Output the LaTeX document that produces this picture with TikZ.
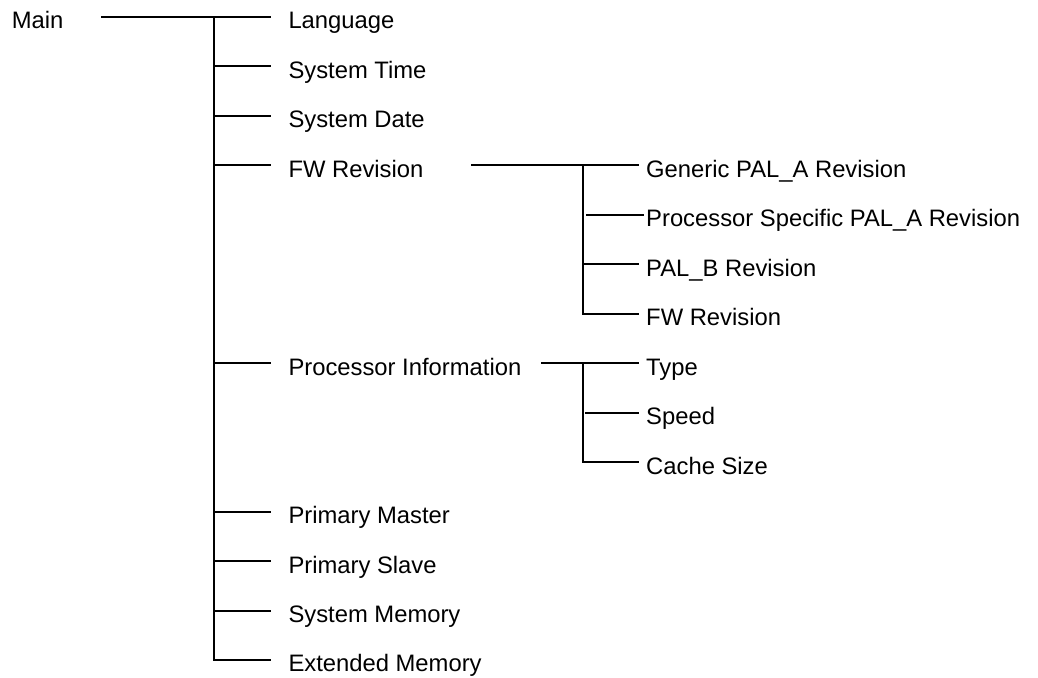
\documentclass[tikz,border=0pt]{standalone}
\usepackage{fontspec}
\setmainfont{Liberation Sans}
\begin{document}
\begin{tikzpicture}[x=1pt,y=-1pt,
  lbl/.style={anchor=base west, inner sep=0pt, font=\fontsize{23.8}{28}\selectfont},
  link/.style={draw=black, line width=1.6pt}]
\useasboundingbox (0,0) rectangle (1038,677);

% ---- text nodes
\node[lbl] (main)    at (11.7,28.5)  {Main};
\node[lbl] (lang)    at (288.3,28.5) {Language};
\node[lbl] (stime)   at (288.3,78)   {System Time};
\node[lbl] (sdate)   at (288.3,127.5){System Date};
\node[lbl] (fw)      at (288.3,177)  {FW Revision};
\node[lbl] (proc)    at (288.3,375)  {Processor Information};
\node[lbl] (pmaster) at (288.3,523.5){Primary Master};
\node[lbl] (pslave)  at (288.3,573)  {Primary Slave};
\node[lbl] (smem)    at (288.3,622.5){System Memory};
\node[lbl] (emem)    at (288.3,671.5){Extended Memory};

\node[lbl] (gen)     at (646,177)    {Generic PAL\_A Revision};
\node[lbl] (pspec)   at (646,226.5)  {Processor Specific PAL\_A Revision};
\node[lbl] (palb)    at (646,276)    {PAL\_B Revision};
\node[lbl] (fw2)     at (646,325.5)  {FW Revision};
\node[lbl] (type)    at (646,375)    {Type};
\node[lbl] (speed)   at (646,424.5)  {Speed};
\node[lbl] (cache)   at (646,474)    {Cache Size};

% ---- level 1 coordinates
\coordinate (mainS)  at (101,17);
\coordinate (j0)     at (214,17);
\coordinate (langE)  at (271,17);
\coordinate (stimeE) at (271,66);
\coordinate (sdateE) at (271,116);
\coordinate (fwE)    at (271,165);
\coordinate (procE)  at (271,363);
\coordinate (pmE)    at (271,512);
\coordinate (psE)    at (271,561);
\coordinate (smE)    at (271,611);
\coordinate (emE)    at (271,660);

% ---- level 2 coordinates (FW Revision)
\coordinate (fwS)    at (471,165);
\coordinate (j3)     at (583,165);
\coordinate (genE)   at (639,165);
\coordinate (pspecS) at (586,215);
\coordinate (pspecE) at (644,215);
\coordinate (palbE)  at (639,264);
\coordinate (fw2E)   at (639,314);

% ---- level 2 coordinates (Processor Information)
\coordinate (procS)  at (541,363);
\coordinate (j7)     at (583,363);
\coordinate (typeE)  at (639,363);
\coordinate (speedS) at (585,413);
\coordinate (speedE) at (639,413);
\coordinate (cacheE) at (639,462);

% ---- connectors level 1
\draw[link] (mainS) -- (langE);
\draw[link] (j0) |- (emE);
\draw[link] (j0 |- stimeE) -- (stimeE);
\draw[link] (j0 |- sdateE) -- (sdateE);
\draw[link] (j0 |- fwE) -- (fwE);
\draw[link] (j0 |- procE) -- (procE);
\draw[link] (j0 |- pmE) -- (pmE);
\draw[link] (j0 |- psE) -- (psE);
\draw[link] (j0 |- smE) -- (smE);

% ---- connectors FW Revision subtree
\draw[link] (fwS) -- (genE);
\draw[link] (j3) |- (fw2E);
\draw[link] (pspecS) -- (pspecE);
\draw[link] (j3 |- palbE) -- (palbE);

% ---- connectors Processor Information subtree
\draw[link] (procS) -- (typeE);
\draw[link] (j7) |- (cacheE);
\draw[link] (speedS) -- (speedE);
\end{tikzpicture}
\end{document}
